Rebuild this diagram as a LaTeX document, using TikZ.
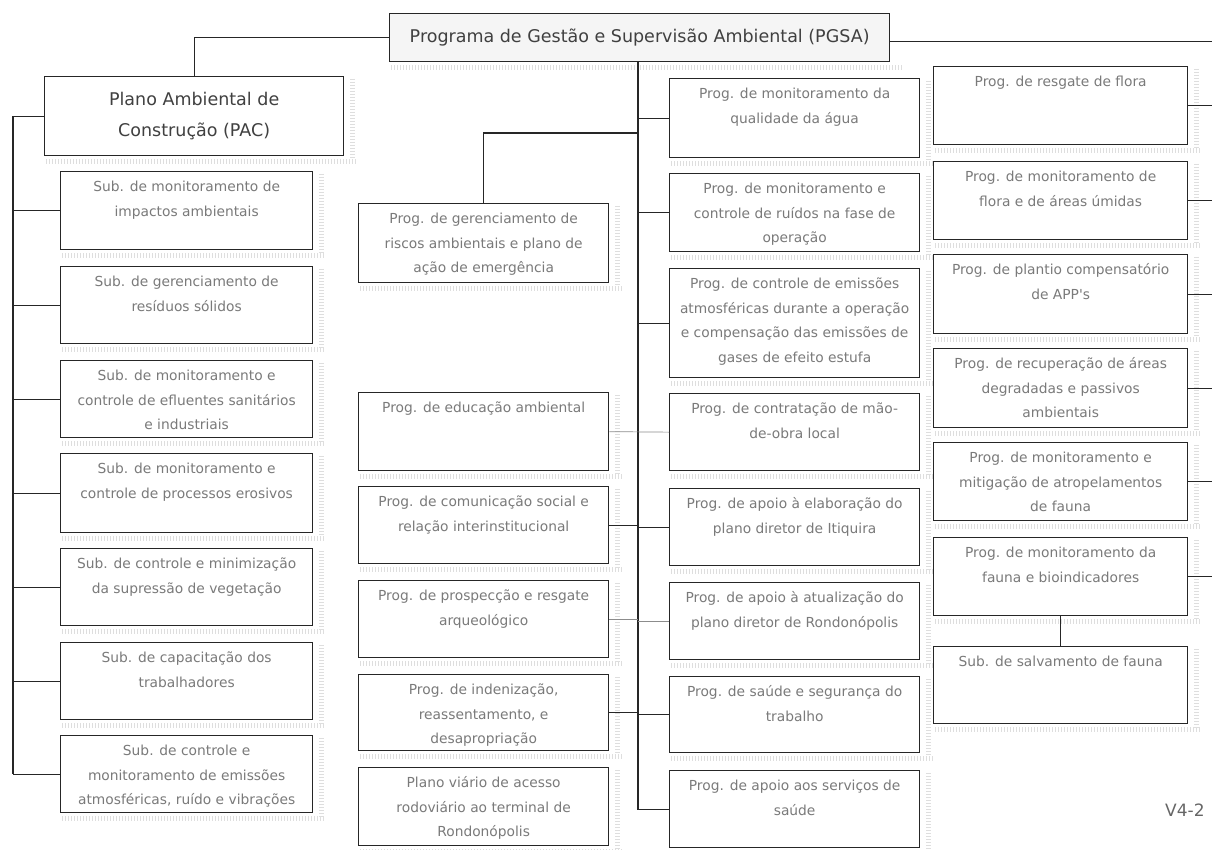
\documentclass[tikz,border=0pt]{standalone}
\usepackage{fontspec}
\setmainfont{DejaVu Sans}
\newfontfamily\straightfont{DejaVu Sans}
\newcommand{\boxtxt}[3]{\parbox[c][#2][t]{#1}{\centering\rule{0pt}{20pt}#3}}
\tikzset{
  box/.style={draw=black!85, line width=1.3pt, fill=white, inner sep=0pt, anchor=north west,
    text=black!52, font=\fontsize{13.8}{24.5}\selectfont},
  bigbox/.style={draw=black!85, line width=1.3pt, fill=white, inner sep=0pt, anchor=north west,
    text=black!75, align=center, font=\fontsize{17.5}{31}\selectfont},
  hatch/.style={draw=black!13, line width=5pt, dash pattern=on 1pt off 2pt},
  conn/.style={draw=black!85, line width=1.2pt},
  thinconn/.style={draw=black!45, line width=0.7pt},
}
\newcommand{\mkbox}[6]{%
  \node[box, minimum width=#4, minimum height=#5] (#1) at (#2,#3)
    {\boxtxt{\dimexpr #4pt-4pt\relax}{#5pt}{#6}};
  \draw[hatch] ([xshift=2pt,yshift=-5pt]#1.south west) -- ([xshift=12pt,yshift=-5pt]#1.south east);
  \draw[hatch] ([xshift=8pt,yshift=-3pt]#1.north east) -- ([xshift=8pt,yshift=-3pt]#1.south east);
}
\begin{document}
\begin{tikzpicture}[x=1pt,y=-1pt]
\useasboundingbox (0,0) rectangle (1212,850);

% top
\node[bigbox, fill=black!4, minimum width=500, minimum height=48] (pgsa) at (389,13)
  {Programa de Gestão e Supervisão Ambiental (PGSA)};
\draw[hatch] ([xshift=2pt,yshift=-5pt]pgsa.south west) -- ([xshift=12pt,yshift=-5pt]pgsa.south east);
\node[bigbox, minimum width=299, minimum height=79] (pac) at (44,76)
  {Plano Ambiental de\\Construção (PAC)};
\draw[hatch] ([xshift=2pt,yshift=-5pt]pac.south west) -- ([xshift=12pt,yshift=-5pt]pac.south east);
\draw[hatch] ([xshift=8pt,yshift=-3pt]pac.north east) -- ([xshift=8pt,yshift=-3pt]pac.south east);

% left column
\mkbox{l1}{60}{171}{252}{78}{Sub. de monitoramento de\\impactos ambientais}
\mkbox{l2}{60}{266}{252}{77}{Sub. de gerenciamento de\\resíduos sólidos}
\mkbox{l3}{60}{360}{252}{77}{Sub. de monitoramento e\\controle de efluentes sanitários\\e industriais}
\mkbox{l4}{60}{453}{252}{79}{Sub. de monitoramento e\\controle de processos erosivos}
\mkbox{l5}{60}{548}{252}{77}{Sub. de controle e minimização\\da supressão de vegetação}
\mkbox{l6}{60}{642}{252}{77}{Sub. de capacitação dos\\trabalhadores}
\mkbox{l7}{60}{735}{252}{77}{Sub. de controle e\\monitoramento de emissões\\atmosféricas, ruído e vibrações}

% middle-left column
\mkbox{riscos}{358}{203}{250}{79}{Prog. de gerenciamento de\\riscos ambientais e plano de\\ação de emergência}
\mkbox{educ}{358}{392}{250}{78}{Prog. de educação ambiental}
\mkbox{comun}{358}{486}{250}{77}{Prog. de comunicação social e\\relação interinstitucional}
\mkbox{prosp}{358}{580}{250}{77}{Prog. de prospecção e resgate\\arqueológico}
\mkbox{inden}{358}{674}{250}{76}{Prog. de indenização,\\reassentamento, e\\desapropriação}
\mkbox{viario}{358}{767}{250}{78}{Plano viário de acesso\\rodoviário ao terminal de\\Rondonópolis}

% middle-right column
\mkbox{m1}{669}{78}{250}{79}{Prog. de monitoramento da\\qualidade da água}
\mkbox{m2}{669}{173}{250}{78}{Prog. de monitoramento e\\controle de ruídos na fase de\\operação}
\mkbox{m3}{669}{268}{250}{109}{Prog. de controle de emissões\\atmosféricas durante a operação\\e compensação das emissões de\\gases de efeito estufa}
\mkbox{m4}{669}{393}{250}{77}{Prog. de contratação de mão-\\de-obra local}
\mkbox{m5}{669}{488}{250}{77}{Prog. de apoio à elaboração do\\plano diretor de Itiquira}
\mkbox{m6}{669}{582}{250}{77}{Prog. de apoio à atualização do\\plano diretor de Rondonópolis}
\mkbox{m7}{669}{676}{250}{76}{Prog. de saúde e segurança do\\trabalho}
\mkbox{m8}{669}{770}{250}{77}{Prog. de apoio aos serviços de\\saúde}

% right column
\mkbox{r1}{933}{66}{254}{78}{Prog. de resgate de flora}
\mkbox{r2}{933}{161}{254}{78}{Prog. de monitoramento de\\flora e de áreas úmidas}
\mkbox{r3}{933}{254}{254}{79}{Prog. de plantio compensatório\\de APP{\straightfont'}s}
\mkbox{r4}{933}{348}{254}{79}{Prog. de recuperação de áreas\\degradadas e passivos\\ambientais}
\mkbox{r5}{933}{442}{254}{78}{Prog. de monitoramento e\\mitigação de atropelamentos\\de fauna}
\mkbox{r6}{933}{537}{254}{78}{Prog. de monitoramento da\\fauna e bioindicadores}
\mkbox{r7}{933}{646}{254}{77}{Sub. de salvamento de fauna}

\node[anchor=west, inner sep=0pt, text=black!60, font=\fontsize{17}{20}\selectfont] (ver) at (1165,810) {V4-2};

% helper coordinates
\coordinate (spL) at (13,0);
\coordinate (spM) at (638,0);
\coordinate (edge) at (1212,0);
\coordinate (rk) at (638,133);

% connectors: top
\draw[conn] (pgsa.west) -| (pac.north);
\draw[conn] ([yshift=-4pt]pgsa.east) -- ([yshift=-4pt]pgsa.east -| edge);

% left spine
\draw[conn] (pac.west) -- (pac.west -| spL) -- (l7.west -| spL);
\foreach \n in {l1,l2,l3,l4,l5,l6,l7} \draw[conn] (\n.west) -- (\n.west -| spL);

% middle spine
\draw[conn] (pgsa.south -| spM) -- (m8.west -| spM) -- (m8.west);
\draw[conn] (riscos.north) |- (rk);
\foreach \n in {m1,m2,m3,m5,m7} \draw[conn] (\n.west) -- (\n.west -| spM);
\draw[conn] (comun.east) -- (comun.east -| spM);
\draw[conn] (inden.east) -- (inden.east -| spM);
\draw[thinconn] (educ.east) -- (m4.west);
\draw[thinconn] (prosp.east) -- (prosp.east -| spM);
\draw[thinconn] (m6.west) -- (m6.west -| spM);

% right column stubs
\foreach \n in {r1,r2,r3,r4,r5,r6} \draw[conn] (\n.east) -- (\n.east -| edge);
\draw[conn] (r6.south) -- (r7.north);
\end{tikzpicture}
\end{document}
